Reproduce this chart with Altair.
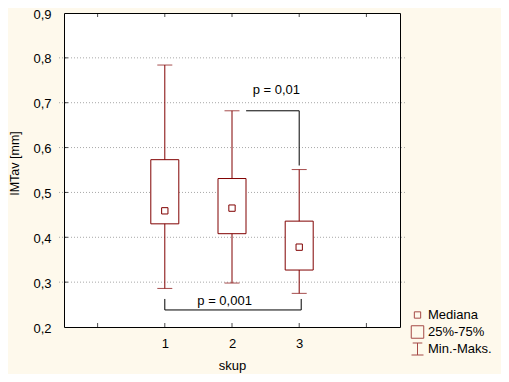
import altair as alt
import pandas as pd

# ---- data ----
groups = [1, 2, 3]
mins = [0.286, 0.298, 0.275]
q1s = [0.430, 0.408, 0.327]
medians = [0.459, 0.465, 0.378]
q3s = [0.573, 0.531, 0.436]
maxs = [0.784, 0.682, 0.551]

y_ticks = [0.2, 0.3, 0.4, 0.5, 0.6, 0.7, 0.8, 0.9]
grid_vals = [0.3, 0.4, 0.5, 0.6, 0.7, 0.8]
x_tick_pos = [0, 1, 2, 3, 4]

# significance brackets (x1, x2, y1, y2)
br_x = [2.21, 3.0, 1.0, 1.0, 3.03]
br_x2 = [3.0, 3.0, 3.03, 1.0, 3.03]
br_y = [0.682, 0.682, 0.238, 0.2625, 0.2625]
br_y2 = [0.682, 0.56, 0.238, 0.238, 0.238]
p_text = ["p = 0,01", "p = 0,001"]
p_x = [2.66, 1.89]
p_y = [0.728, 0.259]

legend_labels = ["Mediana", "25%-75%", "Min.-Maks."]

DARK = "#800000"
BG = "#FEF9EC"
FONT = "Liberation Sans"

df = pd.DataFrame({"g": groups, "mn": mins, "q1": q1s, "med": medians,
                   "q3": q3s, "mx": maxs})
brackets = pd.DataFrame({"x": br_x, "x2": br_x2, "y": br_y, "y2": br_y2})
ptext = pd.DataFrame({"t": p_text, "x": p_x, "y": p_y})
grid_df = pd.DataFrame({"v": grid_vals})
xt_df = pd.DataFrame({"x": x_tick_pos})
one = pd.DataFrame({"a": [0]})

xs = alt.Scale(domain=[-0.5, 4.5], nice=False, zero=False)
ys = alt.Scale(domain=[0.2, 0.9], nice=False, zero=False)

x_axis = alt.Axis(values=groups, format="d", grid=False, ticks=False, domain=False,
                  labelPadding=10, labelFontSize=13, labelColor="black",
                  title="skup", titleFontSize=13, titleFontWeight="normal",
                  titlePadding=9, titleColor="black", labelFont=FONT, titleFont=FONT)
y_axis = alt.Axis(values=y_ticks,
                  labelExpr="replace(format(datum.value, '.1f'), '.', ',')",
                  grid=False, ticks=False, domain=False, labelPadding=8, labelOffset=1,
                  labelFontSize=13, labelColor="black",
                  title="IMTav [mm]", titleFontSize=12.5, titleFontWeight="normal",
                  titleX=-45, titleY=150, titleAngle=-90, titleBaseline="middle",
                  titleAlign="center",
                  titleColor="black", labelFont=FONT, titleFont=FONT)

frame = alt.Chart(one).mark_rect(fill="white", stroke="black", strokeWidth=1,
                                 xOffset=0.5, x2Offset=0.5, yOffset=0.5, y2Offset=0.5).encode(
    x=alt.datum(-0.5, scale=xs), x2=alt.datum(4.5),
    y=alt.datum(0.2, scale=ys), y2=alt.datum(0.9))

grid = alt.Chart(grid_df).mark_rule(color="#a8a8a8", strokeWidth=1, strokeDash=[1, 2]).encode(
    y=alt.Y("v:Q", scale=ys, axis=y_axis)
)

whisk = alt.Chart(df).mark_rule(color=DARK, strokeWidth=1).encode(
    x=alt.X("g:Q", scale=xs, axis=x_axis),
    y=alt.Y("mn:Q", scale=ys),
    y2="mx:Q",
)

caps_top = alt.Chart(df).mark_tick(color=DARK, orient="horizontal", size=15, thickness=1).encode(
    x=alt.X("g:Q", scale=xs), y=alt.Y("mx:Q", scale=ys))
caps_bot = alt.Chart(df).mark_tick(color=DARK, orient="horizontal", size=15, thickness=1).encode(
    x=alt.X("g:Q", scale=xs), y=alt.Y("mn:Q", scale=ys))

box = alt.Chart(df).mark_bar(size=28, fill="white", stroke=DARK, strokeWidth=1).encode(
    x=alt.X("g:Q", scale=xs), y=alt.Y("q1:Q", scale=ys), y2="q3:Q")

med = alt.Chart(df).mark_point(shape="square", size=40, filled=True, fill="white",
                               stroke=DARK, strokeWidth=1, opacity=1).encode(
    x=alt.X("g:Q", scale=xs), y=alt.Y("med:Q", scale=ys))

br = alt.Chart(brackets).mark_rule(color="black", strokeWidth=1).encode(
    x=alt.X("x:Q", scale=xs), x2="x2:Q", y=alt.Y("y:Q", scale=ys), y2="y2:Q")

ptx = alt.Chart(ptext).mark_text(fontSize=13, font=FONT, color="black", baseline="middle").encode(
    x=alt.X("x:Q", scale=xs), y=alt.Y("y:Q", scale=ys), text="t:N")

tick_bot = alt.Chart(xt_df).mark_tick(color="black", orient="vertical", size=4, thickness=1,
                                      yOffset=-2).encode(
    x=alt.X("x:Q", scale=xs), y=alt.datum(0.2, scale=ys))
tick_top = alt.Chart(xt_df).mark_tick(color="black", orient="vertical", size=4, thickness=1,
                                      yOffset=2).encode(
    x=alt.X("x:Q", scale=xs), y=alt.datum(0.9, scale=ys))
tick_left = alt.Chart(grid_df).mark_tick(color="black", orient="horizontal", size=4, thickness=1,
                                         xOffset=2).encode(
    x=alt.datum(-0.5, scale=xs), y=alt.Y("v:Q", scale=ys))

# legend (drawn manually)
leg_med = alt.Chart(one).mark_point(shape="square", size=40, filled=False, stroke=DARK,
                                    strokeWidth=1).encode(x=alt.value(358.5), y=alt.value(302))
leg_box = alt.Chart(one).mark_point(shape="square", size=156, filled=False, stroke=DARK,
                                    strokeWidth=1).encode(x=alt.value(358.5), y=alt.value(319))
leg_wh = alt.Chart(one).mark_point(shape="M-0.8,-1L0.8,-1M0,-1L0,1M-1,1L1,1",
                                   size=144, filled=False, stroke=DARK,
                                   strokeWidth=1).encode(x=alt.value(358.5), y=alt.value(336))
leg_txt = []
for lab, yy in zip(legend_labels, [302, 319, 336]):
    leg_txt.append(alt.Chart(one).mark_text(text=lab, fontSize=13, font=FONT, color="black",
                                            align="left", baseline="middle").encode(
        x=alt.value(369), y=alt.value(yy)))

chart = alt.layer(frame, grid, whisk, caps_top, caps_bot, box, med, br, ptx,
                  tick_bot, tick_top, tick_left, leg_med, leg_box, leg_wh, *leg_txt).properties(
    width=346, height=314,
    autosize=alt.AutoSizeParams(type="none"),
    padding={"left": 51, "top": 5, "right": 96, "bottom": 47},
    background=BG,
).configure(font=FONT).configure_view(strokeWidth=0)

chart.save("out.html", embed_options={"renderer": "svg", "actions": False})
